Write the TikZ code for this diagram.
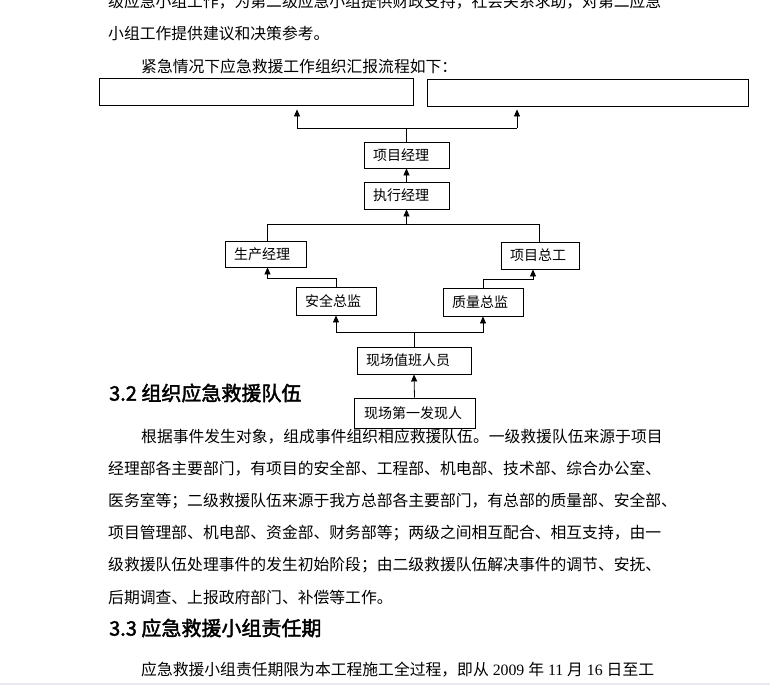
\documentclass[tikz,border=0pt]{standalone}
\usepackage{fontspec}
\newfontfamily\cjk{Noto Sans CJK SC}
\newfontfamily\cjkb[FakeBold=2]{Noto Sans CJK SC}
\newfontfamily\numf{Liberation Serif}
\usetikzlibrary{arrows.meta}
\definecolor{bandgray}{RGB}{232,232,240}
\newcommand\myBody{\fontsize{15.8pt}{18pt}\selectfont\cjk}
\newcommand\myBox{\fontsize{14pt}{16pt}\selectfont\cjk}
\newcommand\myHead{\fontsize{20pt}{22pt}\selectfont\cjkb}
\begin{document}
\begin{tikzpicture}[x=1pt,y=-1pt,
  txt/.style={anchor=west,inner sep=0pt,font=\myBody},
  head/.style={anchor=west,inner sep=0pt,font=\myHead},
  box/.style={draw,line width=0.9pt,inner xsep=9pt,inner ysep=0pt,align=left,font=\myBox,anchor=center},
  conn/.style={line width=0.8pt},
  arr/.style={conn,-{Triangle[length=7pt,width=6pt]}}]
\useasboundingbox (0,0) rectangle (770,685);
\fill[white] (0,0) rectangle (770,685);
\fill[bandgray] (0,683) rectangle (770,685);

% text above
\node[txt] (l1) at (108,2) {级应急小组工作，为第二级应急小组提供财政支持，社会关系求助，对第二应急};
\node[txt] (l2) at (108,34) {小组工作提供建议和决策参考。};
\node[txt] (l3) at (141,66) {紧急情况下应急救援工作组织汇报流程如下：};

% boxes
\node[box,text width=296pt,minimum height=27pt] (tl) at (256,91.5) {};
\node[box,text width=303pt,minimum height=27pt] (tr) at (587.5,92.5) {};
\node[box,text width=67pt,minimum height=26pt] (pm) at (406.5,155) {项目经理};
\node[box,text width=67pt,minimum height=27pt] (em) at (406.5,195.5) {执行经理};
\node[box,text width=63pt,minimum height=26pt] (prod) at (265.5,254) {生产经理};
\node[box,text width=60pt,minimum height=27pt] (chief) at (540,255.5) {项目总工};
\node[box,text width=62pt,minimum height=28pt] (safety) at (336,301) {安全总监};
\node[box,text width=62pt,minimum height=28pt] (quality) at (483,302) {质量总监};
\node[box,text width=96pt,minimum height=27pt] (duty) at (414,360.5) {现场值班人员};
\node[box,text width=101pt,minimum height=30pt,inner xsep=10pt] (first) at (414.5,413) {现场第一发现人};

% connectors
\draw[conn] (pm.north) -- ++(0,-14) coordinate (j1);
\coordinate (ja) at (297,128);
\coordinate (jb) at (517,128);
\draw[conn] (ja) -- (jb);
\draw[arr,shorten >=4pt] (ja) -- (ja |- tl.south);
\draw[arr,shorten >=3pt] (jb) -- (jb |- tr.south);
\draw[arr] (em.north) -- (pm.south);
\coordinate (b1) at (267,224);
\coordinate (b2) at (539,224);
\draw[conn] (b1 |- prod.north) -- (b1) -- (b2) -- (b2 |- chief.north);
\draw[arr] (em.south |- b1) -- (em.south);
\draw[arr] (safety.north) -- ++(0,-8) -| ([xshift=2pt]prod.south);
\draw[arr] (quality.north) -- ++(0,-8) -| ([xshift=-7pt]chief.south);
\draw[conn] (duty.north) -- ++(0,-14) coordinate (jd);
\draw[arr] (jd) -| (safety.south);
\draw[arr] (jd) -| (quality.south);
\draw[arr] (first.north) -- (duty.south);

% text below
\node[head] (h1) at (109,393) {3.2 组织应急救援队伍};
\node[txt] (p1) at (141,437) {根据事件发生对象，组成事件组织相应救援队伍。一级救援队伍来源于项目};
\node[txt] (p2) at (108,469) {经理部各主要部门，有项目的安全部、工程部、机电部、技术部、综合办公室、};
\node[txt] (p3) at (108,501) {医务室等；二级救援队伍来源于我方总部各主要部门，有总部的质量部、安全部、};
\node[txt] (p4) at (108,533) {项目管理部、机电部、资金部、财务部等；两级之间相互配合、相互支持，由一};
\node[txt] (p5) at (108,565) {级救援队伍处理事件的发生初始阶段；由二级救援队伍解决事件的调节、安抚、};
\node[txt] (p6) at (108,597) {后期调查、上报政府部门、补偿等工作。};
\node[head] (h2) at (109,628) {3.3 应急救援小组责任期};
\node[txt] (p7) at (141,670) {应急救援小组责任期限为本工程施工全过程，即从{\numf\ 2009 }年{\numf\ 11 }月{\numf\ 16 }日至工};
\end{tikzpicture}
\end{document}
